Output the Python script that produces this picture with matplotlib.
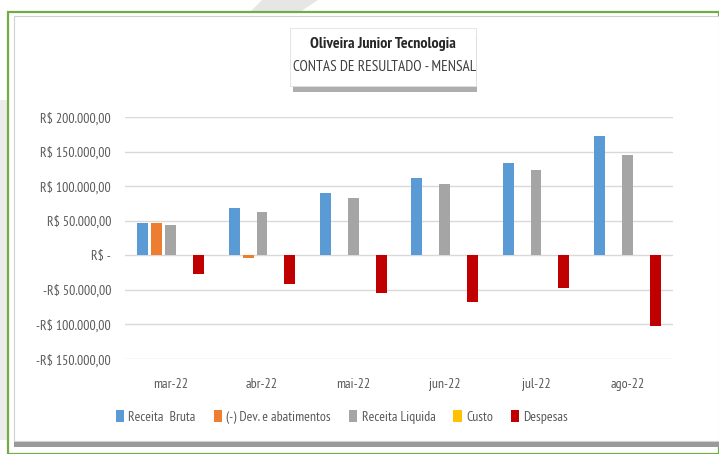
import matplotlib
matplotlib.use("Agg")
import matplotlib.pyplot as plt
from matplotlib.patches import Rectangle, Polygon
import numpy as np

plt.rcParams['font.family'] = ['PT Sans Narrow', 'DejaVu Sans']

months = ['mar-22', 'abr-22', 'mai-22', 'jun-22', 'jul-22', 'ago-22']
series_names = ['Receita  Bruta', '(-) Dev. e abatimentos', 'Receita Liquida', 'Custo', 'Despesas']
receita_bruta = [46800, 67700, 89400, 112000, 133800, 173000]
devolucoes = [46800, -3300, 0, 0, 0, 0]
receita_liquida = [44000, 62000, 82600, 103000, 124000, 145000]
custo = [0, 0, 0, 0, 0, 0]
despesas = [-27500, -41000, -54000, -67700, -46800, -102500]
colors = ['#5B9BD5', '#ED7D31', '#A5A5A5', '#FFC000', '#C00000']
ytick_values = [200000, 150000, 100000, 50000, 0, -50000, -100000, -150000]
ytick_labels = ['R$ 200.000,00', 'R$ 150.000,00', 'R$ 100.000,00', 'R$ 50.000,00', 'R$ -',
                '-R$ 50.000,00', '-R$ 100.000,00', '-R$ 150.000,00']
title1 = 'Oliveira Junior Tecnologia'
title2 = 'CONTAS DE RESULTADO - MENSAL'

W, H = 719, 454
fig = plt.figure(figsize=(W / 100, H / 100), dpi=100)
fig.patch.set_facecolor('white')

def fx(px):
    return px / W

def fy(py):
    return 1 - py / H

# background decorations
fig.patches.append(Polygon([(fx(262), fy(0)), (fx(318), fy(0)), (fx(300), fy(12)), (fx(250), fy(12))],
                           closed=True, transform=fig.transFigure, facecolor='#e6e6e6', edgecolor='none', zorder=0))
fig.patches.append(Rectangle((fx(0), fy(440)), fx(8), 340 / H, transform=fig.transFigure,
                             facecolor='#ececec', edgecolor='none', zorder=0))
# green border frame
fig.patches.append(Rectangle((fx(8), fy(454)), fx(711), 442 / H, transform=fig.transFigure,
                             facecolor='white', edgecolor='#70AD47', linewidth=1.6, zorder=0.5))
# inner panel shadow
fig.patches.append(Rectangle((fx(14), fy(447)), fx(705), 6 / H, transform=fig.transFigure,
                             facecolor='#9a9a9a', edgecolor='none', zorder=0.6))
fig.patches.append(Rectangle((fx(14), fy(441)), fx(705), 425 / H, transform=fig.transFigure,
                             facecolor='white', edgecolor='#d0d0d0', linewidth=0.8, zorder=0.7))

ax = fig.add_axes([fx(125), fy(359), fx(673 - 125), (359 - 117) / H])
ax.set_facecolor('none')
ax.set_zorder(2)

data = [receita_bruta, devolucoes, receita_liquida, custo, despesas]
x = np.arange(len(months))
slot = 0.153
bw = 0.12
for i, (vals, c, name) in enumerate(zip(data, colors, series_names)):
    ax.bar(x + (i - 2) * slot, vals, width=bw, color=c, label=name, zorder=3)

ax.set_xlim(-0.5, len(months) - 0.5)
ax.set_ylim(-150000, 200000)
ax.set_yticks(ytick_values)
ax.set_yticklabels(ytick_labels)
ax.set_xticks(x)
ax.set_xticklabels(months)
ax.grid(axis='y', color='#d9d9d9', linewidth=1.0, zorder=0)
ax.set_axisbelow(True)
for s in ax.spines.values():
    s.set_visible(False)
ax.tick_params(axis='both', length=0, labelsize=10, colors='#595959')
ax.tick_params(axis='y', pad=10)
ax.tick_params(axis='x', pad=14)

# title box with shadow
fig.patches.append(Rectangle((fx(293), fy(92)), fx(184), 56 / H, transform=fig.transFigure,
                             facecolor='#8c8c8c', edgecolor='none', zorder=3, alpha=0.7))
fig.patches.append(Rectangle((fx(290), fy(86)), fx(186), 58 / H, transform=fig.transFigure,
                             facecolor='white', edgecolor='#e0e0e0', linewidth=0.6, zorder=3.1))
fig.text(fx(383), fy(44), title1, ha='center', va='center', fontsize=11.5, fontweight='bold',
         color='#262626', zorder=4)
fig.text(fx(385), fy(67), title2, ha='center', va='center', fontsize=11,
         color='#404040', zorder=4)

handles, labels = ax.get_legend_handles_labels()
leg = fig.legend(handles, labels, loc='center', bbox_to_anchor=(fx(342), fy(417)), ncol=5,
                 frameon=False, fontsize=10, handlelength=0.6, handleheight=0.9,
                 handletextpad=0.3, columnspacing=1.3, labelcolor='#595959')

fig.savefig('out.png', dpi=100)
